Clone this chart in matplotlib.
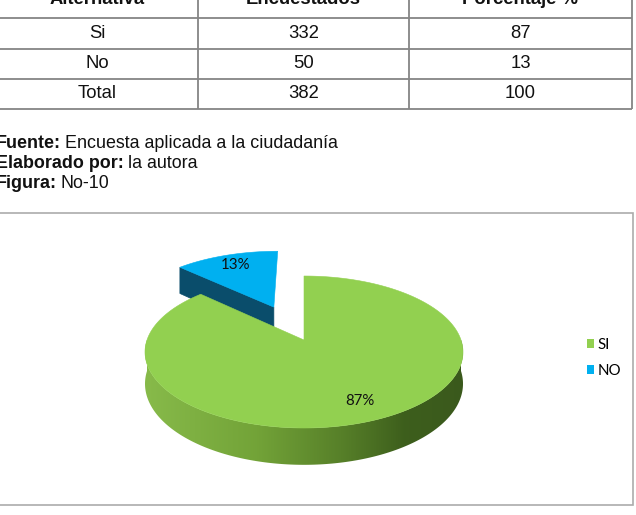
import numpy as np
import matplotlib
matplotlib.use("Agg")
import matplotlib.pyplot as plt
from matplotlib.patches import Polygon, Rectangle, Patch
from matplotlib.colors import LinearSegmentedColormap

# ---------------- data ----------------
table_header = ["Alternativa", "Encuestados", "Porcentaje %"]
alternativas = ["Si", "No", "Total"]
encuestados = [332, 50, 382]
porcentajes = [87, 13, 100]

pie_labels = ["SI", "NO"]
pie_values = [87, 13]

notes_bold = ["Fuente:", "Elaborado por:", "Figura:"]
notes_text = ["Encuesta aplicada a la ciudadanía", "la autora", "No-10"]

# ---------------- style ----------------
top_colors = ["#92D050", "#00B0F0"]
face_colors = ["#4F7A25", "#0A4D6B"]
explode = [0.0, 0.52]
side_stops = [(0.0, (0.53, 0.73, 0.29)), (0.35, (0.45, 0.64, 0.22)),
              (0.62, (0.34, 0.50, 0.16)), (0.82, (0.24, 0.37, 0.11)),
              (1.0, (0.23, 0.35, 0.11))]

W, H = 636, 515
fig = plt.figure(figsize=(W / 100, H / 100), dpi=100)
ax = fig.add_axes([0, 0, 1, 1])
ax.set_xlim(0, W)
ax.set_ylim(H, 0)
ax.axis("off")

# ---------------- table ----------------
col_edges = [-2, 198, 409, 632]
row_edges = [-26, 18, 49, 79, 109]
line_c = "#858585"
for y in row_edges[1:]:
    ax.plot([0, col_edges[-1]], [y, y], color=line_c, lw=1.3, solid_capstyle="butt")
for x in col_edges[1:]:
    ax.plot([x, x], [0, row_edges[-1]], color=line_c, lw=1.3, solid_capstyle="butt")

tfont = dict(family="Liberation Sans", fontsize=13.3, color="#111111")
centers = [(col_edges[i] + col_edges[i + 1]) / 2 for i in range(3)]
centers[0] = 97
for j, h in enumerate(table_header):
    ax.text(centers[j], 4.0, h, ha="center", va="baseline", fontweight="bold", **tfont)
for i in range(len(alternativas)):
    yc = (row_edges[i + 1] + row_edges[i + 2]) / 2
    row = [alternativas[i], str(encuestados[i]), str(porcentajes[i])]
    for j, s in enumerate(row):
        ax.text(centers[j], yc, s, ha="center", va="center", **tfont)

# ---------------- notes ----------------
nfont = dict(family="Liberation Sans", fontsize=12.9, color="#111111")
fig.canvas.draw()
renderer = fig.canvas.get_renderer()
inv = ax.transData.inverted()
for i, (b, t) in enumerate(zip(notes_bold, notes_text)):
    y = 147.5 + 20.5 * i
    tb = ax.text(-4, y, b, ha="left", va="baseline", fontweight="bold", **nfont)
    bb = tb.get_window_extent(renderer=renderer)
    xr = inv.transform((bb.x1, bb.y0))[0]
    ax.text(xr + 4.0, y, t, ha="left", va="baseline", **nfont)

# ---------------- chart box ----------------
ax.add_patch(Rectangle((-6, 213), 639, 292, fc="none", ec="#ABABAB", lw=1.2))

# ---------------- 3D pie ----------------
cx, cy, A, B, k, D = 304, 340, 157, 74.1, 0.158, 31


def proj(u, v, z=0.0):
    s = 1.0 / (1.0 + k * v)
    return cx + A * u * s, cy - B * v * s + D * z * s


vals = np.array(pie_values, dtype=float)
fr = vals / vals.sum()
starts = 90 - 360 * np.cumsum(fr)          # clockwise from 12 o'clock
ends = starts + 360 * fr
cam = np.array([0.0, -1.0 / k])

side_cmap = LinearSegmentedColormap.from_list("side", side_stops)

slices = []
for i in range(len(vals)):
    t0, t1 = starts[i], ends[i]
    mid = np.radians((t0 + t1) / 2)
    off = explode[i] * np.array([np.cos(mid), np.sin(mid)])
    slices.append((off[1], i, t0, t1, off, mid))
slices.sort(key=lambda s: -s[0])  # back first

for _, i, t0, t1, off, mid in slices:
    ou, ov = off
    # cut faces
    for t, sgn in ((t0, 1), (t1, -1)):
        tr = np.radians(t)
        n = sgn * np.array([np.sin(tr), -np.cos(tr)])
        if np.dot(n, cam - off) > 0.5:
            qu, qv = ou + np.cos(tr), ov + np.sin(tr)
            pts = [proj(ou, ov, 0), proj(qu, qv, 0), proj(qu, qv, 1), proj(ou, ov, 1)]
            ax.add_patch(Polygon(pts, closed=True, fc=face_colors[i], ec=face_colors[i], lw=0.5))
    # outer side (front part)
    lo, hi = max(t0, -180.0), min(t1, 0.0)
    for m in (-1, 1):
        l2, h2 = max(t0, -180.0 + 360 * m), min(t1, 0.0 + 360 * m)
        if h2 > l2:
            lo, hi = l2, h2
    if hi > lo:
        th = np.radians(np.linspace(lo, hi, 200))
        u, v = ou + np.cos(th), ov + np.sin(th)
        top = [proj(a, b, 0) for a, b in zip(u, v)]
        bot = [proj(a, b, 1) for a, b in zip(u, v)][::-1]
        poly = Polygon(top + bot, closed=True, fc="none", ec="none")
        ax.add_patch(poly)
        grad = np.linspace(0, 1, 256)[None, :]
        xs = [p[0] for p in top]
        ys = [p[1] for p in top + bot]
        im = ax.imshow(grad, cmap=side_cmap, aspect="auto",
                       extent=(min(xs), max(xs), max(ys), min(ys)), zorder=1)
        im.set_clip_path(poly)
        ax.set_xlim(0, W)
        ax.set_ylim(H, 0)
    # top face
    th = np.radians(np.linspace(t0, t1, 300))
    pts = [proj(ou, ov, 0)] + [proj(ou + np.cos(a), ov + np.sin(a), 0) for a in th]
    ax.add_patch(Polygon(pts, closed=True, fc=top_colors[i], ec=top_colors[i], lw=0.4, zorder=2))
    # label
    r = 0.79
    lx, ly = proj(ou + r * np.cos(mid), ov + r * np.sin(mid), 0)
    ax.text(lx, ly, f"{pie_values[i]}%", ha="center", va="center", family="Lato",
            fontsize=10.8, color="#111111", zorder=5)

handles = [Patch(fc=c, ec="none") for c in top_colors]
leg = ax.legend(handles, pie_labels, loc="center left", bbox_to_anchor=(579, 358),
                bbox_transform=ax.transData, frameon=False, handlelength=0.5,
                handleheight=0.5, handletextpad=0.25, labelspacing=0.8,
                borderpad=0, prop=dict(family="Lato", size=10.8))

fig.savefig("out.png", dpi=100, facecolor="white")
